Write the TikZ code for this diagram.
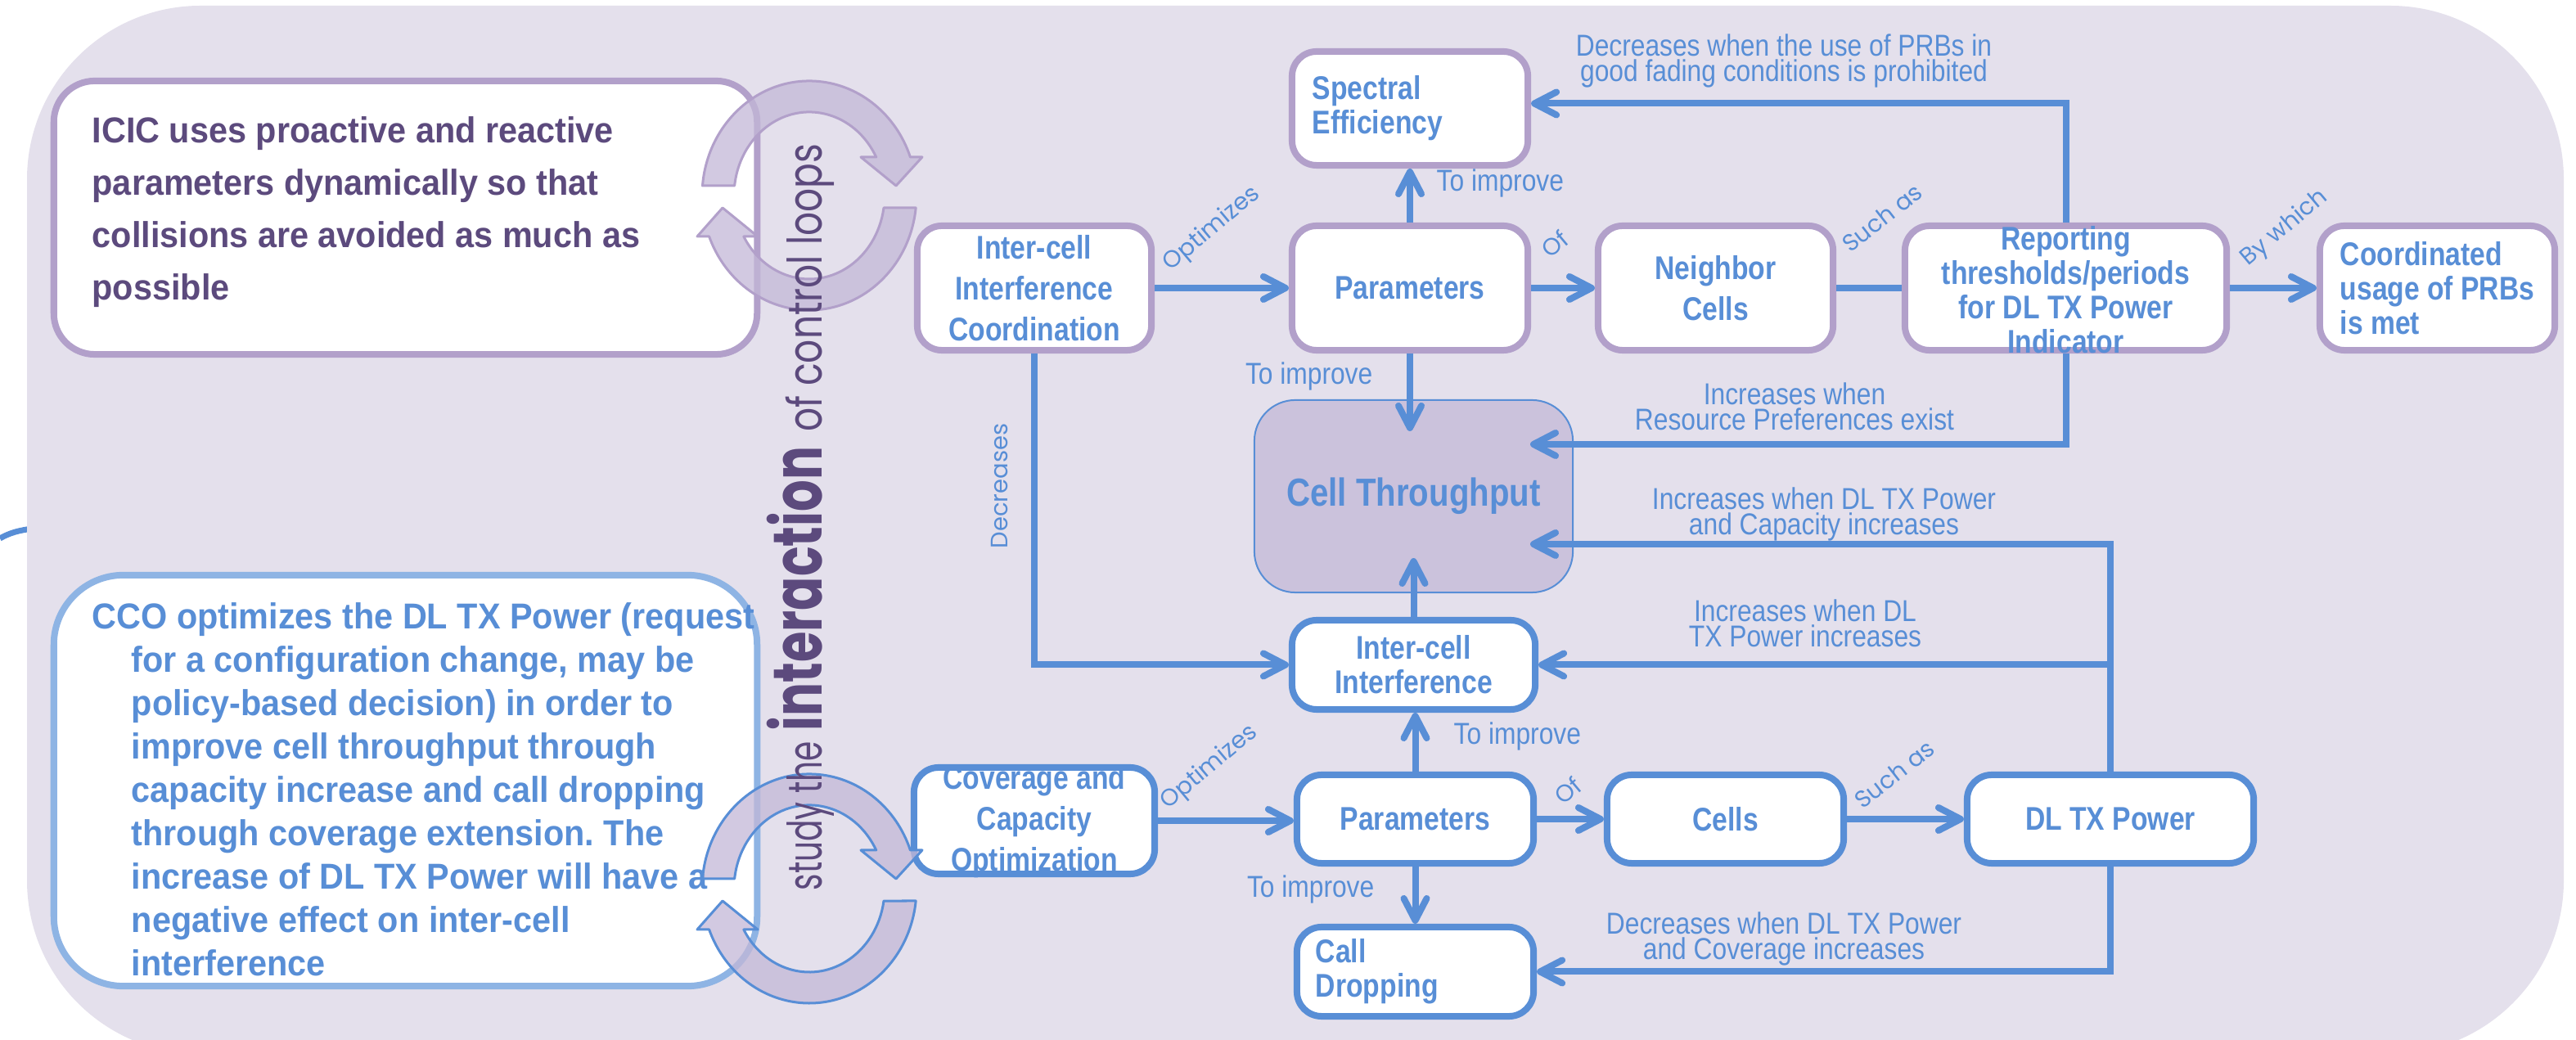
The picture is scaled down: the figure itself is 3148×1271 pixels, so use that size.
\documentclass[tikz,border=0pt]{standalone}
\usepackage{fontspec}
\usepackage{graphicx}
\usetikzlibrary{arrows.meta}
\setmainfont{Liberation Sans}
\newfontfamily\descfont[FakeStretch=0.94]{Liberation Sans}
\newfontfamily\boxfont[FakeStretch=0.84]{Liberation Sans}
\newfontfamily\labfont[FakeStretch=0.86]{Liberation Sans}
\newfontfamily\geofont{Poppins}

\definecolor{bgc}{HTML}{E4E0EC}
\definecolor{pborder}{HTML}{B2A0CA}
\definecolor{ringfill}{HTML}{C3B8D7}
\definecolor{ctfill}{HTML}{CBC2DC}
\definecolor{dpurple}{HTML}{5C4A7D}
\definecolor{flowblue}{HTML}{588ED6}
\definecolor{lblue}{HTML}{8EB4E4}

% two curved arrows forming a loop, centred on the current origin
\newcommand\loopring{%
  \path[ringpart] (-130.5,-12) arc[start angle=184.9, end angle=340.4, x radius=131, y radius=140]
    -- (138,-47) -- (106,-12) -- (63,-47) -- (81.7,-47)
    arc[start angle=332.6, end angle=186.76, x radius=92, y radius=102] -- cycle;
  \path[ringpart] (130.2,15) arc[start angle=6.15, end angle=159.1, x radius=131, y radius=140]
    -- (-137,50) -- (-106,15) -- (-63,50) -- (-80.2,50)
    arc[start angle=150.65, end angle=8.46, x radius=92, y radius=102] -- cycle;
}

\begin{document}
\frenchspacing
\lineskiplimit=-10pt
\begin{tikzpicture}[x=0.01cm, y=-0.01cm,
  flowbox/.style={rounded corners=0.3cm, fill=white, line width=0.08cm, text=flowblue,
    font=\boxfont\bfseries\fontsize{11.4}{11.95}\selectfont, align=center, inner sep=0pt},
  topbox/.style={flowbox, draw=pborder},
  botbox/.style={flowbox, draw=flowblue},
  widelines/.style={font=\boxfont\bfseries\fontsize{11.4}{14.23}\selectfont},
  boxtext/.style={text=flowblue, font=\boxfont\bfseries\fontsize{11.4}{11.95}\selectfont,
    align=center, inner sep=0pt},
  conn/.style={draw=flowblue, line width=0.08cm, -{Straight Barb[length=0.27cm, width=0.28cm, round]}},
  link/.style={draw=flowblue, line width=0.08cm},
  lab/.style={text=flowblue, font=\labfont\fontsize{10.5}{8.8}\selectfont,
    inner sep=0pt, align=center},
  tilt/.style={text=flowblue, font=\geofont\fontsize{8.25}{9}\selectfont, inner sep=0pt},
  ringpart/.style={fill=ringfill, fill opacity=0.75, line width=0.03cm, line join=round},
]
\useasboundingbox (0,0) rectangle (3148,1271);
\clip (0,0) rectangle (3148,1271);
\fill[white] (0,0) rectangle (3148,1271);

% stray arc at the left margin and the rounded backdrop
\draw[flowblue, line width=0.07cm] (0,658) .. controls (12,651) and (24,648) .. (40,646);
\fill[bgc, rounded corners=2.12cm] (33,7) rectangle (3133,1288);

% description panels
\node[draw=pborder, fill=white, line width=0.08cm, rounded corners=0.5cm,
  minimum width=8.59cm, minimum height=3.34cm, inner sep=0pt] (icicbox) at (495.5,266) {};
\node[anchor=north west, text=dpurple, font=\descfont\bfseries\fontsize{12.52}{18.21}\selectfont,
  align=left, inner sep=0pt] (icictext) at (112,142)
  {ICIC uses proactive and reactive\\parameters dynamically so that\\collisions are avoided as much as\\possible};

\node[draw=lblue, fill=white, line width=0.08cm, rounded corners=0.85cm,
  minimum width=8.59cm, minimum height=5.02cm, inner sep=0pt] (ccobox) at (495.5,954) {};
\node[anchor=north west, text=flowblue, font=\descfont\bfseries\fontsize{12.52}{15.08}\selectfont,
  align=left, inner sep=0pt] (ccotext) at (112,736)
  {CCO optimizes the DL TX Power (request\\
   \hspace*{0.48cm}for a configuration change, may be\\
   \hspace*{0.48cm}policy-based decision) in order to\\
   \hspace*{0.48cm}improve cell throughput through\\
   \hspace*{0.48cm}capacity increase and call dropping\\
   \hspace*{0.48cm}through coverage extension. The\\
   \hspace*{0.48cm}increase of DL TX Power will have a\\
   \hspace*{0.48cm}negative effect on inter-cell\\
   \hspace*{0.48cm}interference};

% ICIC chain
\node[topbox, minimum width=2.88cm, minimum height=1.39cm, text width=2.38cm, align=left]
  (se) at (1723,132.5) {Spectral\\Efficiency};
\node[topbox, widelines, minimum width=2.86cm, minimum height=1.52cm]
  (icc) at (1264,352) {Inter-cell\\Interference\\Coordination};
\node[topbox, minimum width=2.88cm, minimum height=1.52cm] (p1) at (1723,352) {Parameters};
\node[topbox, widelines, minimum width=2.87cm, minimum height=1.52cm] (nc) at (2096.5,352) {Neighbor\\Cells};
\node[topbox, minimum width=3.93cm, minimum height=1.52cm] (rep) at (2524.5,352) {};
\node[boxtext] (reptext) at (2524.5,354) {Reporting\\thresholds/periods\\for DL TX Power\\Indicator};
\node[topbox, minimum width=2.87cm, minimum height=1.52cm, align=left]
  (crd) at (2978.5,352) {Coordinated\\usage of PRBs\\is met};

% shared goal
\node[draw=flowblue, fill=ctfill, line width=0.02cm, rounded corners=0.5cm,
  minimum width=3.89cm, minimum height=2.35cm, inner sep=0pt, text=flowblue,
  font=\boxfont\bfseries\fontsize{13.6}{15}\selectfont] (ct) at (1727.5,606.5) {Cell Throughput};

% CCO chain
\node[botbox, minimum width=2.97cm, minimum height=1.09cm] (ici) at (1727.5,812.5) {Inter-cell\\Interference};
\node[botbox, minimum width=2.94cm, minimum height=1.30cm] (cco) at (1264,1003) {};
\node[boxtext, widelines] (cconame) at (1264,1004) {Coverage and\\Capacity\\Optimization};
\node[botbox, minimum width=2.89cm, minimum height=1.08cm] (p2) at (1729.5,1001) {Parameters};
\node[botbox, minimum width=2.89cm, minimum height=1.08cm] (cells) at (2108.5,1001) {Cells};
\node[botbox, minimum width=3.50cm, minimum height=1.08cm] (dl) at (2579,1001) {DL TX Power};
\node[botbox, minimum width=2.89cm, minimum height=1.09cm, text width=2.43cm, align=left]
  (cd) at (1729.5,1187.5) {Call\\Dropping};

% helper points where arrows end inside the goal box
\coordinate (ctin1) at (1870,543);
\coordinate (ctin2) at (1870,665);

% ICIC connectors
\draw[conn] (icc.east) -- (p1.west);
\draw[conn] (p1.north) -- (se.south);
\draw[conn] (p1.east) -- (nc.west);
\draw[conn, shorten >=-0.39cm] (p1.south) -- (p1.south |- ct.north);
\draw[link] (nc.east) -- (rep.west);
\draw[conn] (rep.east) -- (crd.west);
\draw[conn] (rep.north) |- ([yshift=0.06cm]se.east);
\draw[conn] (rep.south) |- (ctin1);
\draw[conn] (icc.south) |- (ici.west);

% CCO connectors
\draw[conn, shorten >=-0.43cm] (ici.north) -- (ici.north |- ct.south);
\draw[conn] (p2.north) -- (p2.north |- ici.south);
\draw[conn] (cco.east) -- (cco.east -| p2.west);
\draw[conn] (p2.east) -- (cells.west);
\draw[conn] (p2.south) -- (p2.south |- cd.north);
\draw[conn] (cells.east) -- (dl.west);
\draw[conn] (dl.north) |- (ctin2);
\draw[conn] (dl.north |- ici.east) -- (ici.east);
\draw[conn] (dl.south) |- (cd.east);

% connector labels
\node[tilt, rotate=40] (optA) at (1481,280) {Optimizes};
\node[tilt, rotate=40] (optB) at (1478,938) {Optimizes};
\node[tilt, rotate=40] (ofA) at (1900,298) {Of};
\node[tilt, rotate=40] (ofB) at (1916,966) {Of};
\node[tilt, rotate=38] (suchA) at (2300,266) {Such as};
\node[tilt, rotate=38] (suchB) at (2315,946) {Such as};
\node[tilt, rotate=40] (bywhich) at (2792,279) {By which};
\node[tilt, rotate=90] (decr) at (1222,594) {Decreases};

\node[lab, anchor=base west] (impA) at (1755,234) {To improve};
\node[lab, anchor=base east] (impB) at (1678,470) {To improve};
\node[lab, anchor=base west] (impC) at (1776,910) {To improve};
\node[lab, anchor=base east] (impD) at (1680,1097) {To improve};

\node[lab, anchor=north] (noteA) at (2180,41) {Decreases when the use of PRBs in\\good fading conditions is prohibited};
\node[lab, anchor=north] (noteB) at (2193,467) {Increases when\\Resource Preferences exist};
\node[lab, anchor=north] (noteC) at (2229,595) {Increases when DL TX Power\\and Capacity increases};
\node[lab, anchor=north] (noteD) at (2206,732) {Increases when DL\\TX Power increases};
\node[lab, anchor=north] (noteE) at (2180,1114) {Decreases when DL TX Power\\and Coverage increases};

% the two control-loop rings
\begin{scope}[shift={(989,239)}, ringpart/.append style={draw=pborder}]
  \loopring
\end{scope}
\begin{scope}[shift={(989,1086)}, ringpart/.append style={draw=flowblue}]
  \loopring
\end{scope}

% vertical caption, the key word set larger and bold
\node[rotate=90, anchor=base west, inner sep=0pt, text=dpurple] (loopnote) at (1004,1089)
  {\resizebox{1.82cm}{\height}{\geofont\fontsize{16.5}{20}\selectfont study the}%
   \hspace{0.13cm}%
   \resizebox{3.47cm}{\height}{\geofont\bfseries\fontsize{23.9}{28}\selectfont interaction}%
   \hspace{0.18cm}%
   \resizebox{3.52cm}{\height}{\geofont\fontsize{16.5}{20}\selectfont of control loops}};
\end{tikzpicture}
\end{document}
